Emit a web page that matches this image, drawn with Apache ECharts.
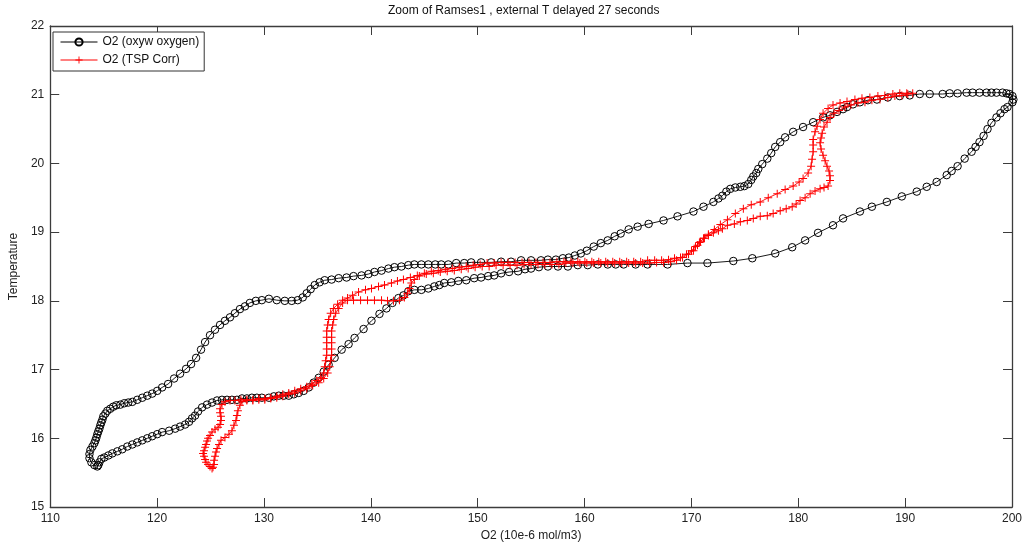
<!DOCTYPE html>
<html>
<head>
<meta charset="utf-8">
<script src="https://cdn.jsdelivr.net/npm/echarts@6/dist/echarts.min.js"></script>
<style>
html,body{margin:0;padding:0;background:#fff;}
#chart{width:1026px;height:547px;}
</style>
</head>
<body>
<div id="chart"></div>
<script>
// ---- data ----
const titleText = 'Zoom of Ramses1 , external T delayed 27 seconds';
const xName = 'O2 (10e-6 mol/m3)';
const yName = 'Temperature';
const seriesNames = ['O2 (oxyw oxygen)', 'O2 (TSP Corr)'];
const xTicks = {min: 110, max: 200, step: 10};
const yTicks = {min: 15, max: 22, step: 1};

const blackO2 = [
114.41,114.13,113.85,113.67,113.67,113.76,113.95,114.13,114.23,114.32,
114.41,114.50,114.60,114.69,114.78,114.88,114.97,115.16,115.34,115.62,
115.90,116.18,116.56,116.93,117.30,117.68,118.14,118.61,119.08,119.54,
120.01,120.47,121.03,121.59,122.15,122.71,123.18,123.65,124.11,124.49,
124.95,125.42,125.89,126.35,126.82,127.28,127.75,128.22,128.68,129.24,
129.80,130.46,131.20,131.95,132.60,133.16,133.63,134.00,134.37,134.75,
135.21,135.68,136.33,136.99,137.73,138.38,139.13,139.78,140.34,141.00,
141.65,142.21,142.86,143.51,144.07,144.73,145.38,146.03,146.59,147.25,
147.99,148.74,149.39,150.32,151.26,152.19,153.12,154.06,154.99,155.92,
156.57,157.32,157.97,158.53,159.09,159.65,160.21,160.86,161.52,162.17,
162.82,163.38,164.13,164.97,166.00,167.39,168.70,170.19,171.13,172.06,
172.53,172.90,173.27,173.64,174.11,174.58,174.95,175.32,175.60,175.79,
176.07,176.26,176.63,177.10,177.47,177.84,178.31,178.77,179.52,180.45,
181.39,182.32,182.97,183.63,184.19,184.56,185.12,185.77,186.52,187.36,
188.38,189.50,190.43,191.37,192.30,193.51,194.17,194.91,195.75,196.31,
196.96,197.62,198.08,198.55,199.11,199.48,199.76,200.04,200.13,200.04,
199.58,199.30,198.92,198.55,198.08,197.71,197.34,196.96,196.59,196.22,
195.57,194.91,194.35,193.89,192.95,192.02,191.09,189.69,188.29,186.89,
185.77,184.19,183.25,181.85,180.64,179.43,177.84,175.70,173.92,171.50,
169.63,167.77,165.90,164.78,163.66,162.92,162.17,161.24,160.30,159.37,
158.44,157.51,156.57,155.73,154.99,154.43,153.78,152.94,152.19,151.54,
150.98,150.32,149.67,148.93,148.18,147.53,146.87,146.41,145.94,145.38,
144.73,144.07,143.51,143.05,142.58,142.02,141.46,140.81,140.06,139.32,
138.48,137.92,137.27,136.61,136.05,135.59,135.12,134.65,134.19,133.72,
133.25,132.79,132.32,131.85,131.39,130.92,130.46,129.80,129.34,128.87,
128.40,127.94,127.47,127.00,126.54,126.07,125.61,125.14,124.67,124.21,
123.83,123.55,123.27,122.99,122.62,122.15,121.69,121.13,120.47,120.01,
119.54,119.08,118.61,118.14,117.68,117.21,116.74,116.28,115.81,115.44,
115.06,114.78,114.60,114.50
];
const blackT = [
15.59,15.61,15.65,15.71,15.77,15.83,15.88,15.93,15.97,16.01,
16.06,16.10,16.14,16.19,16.23,16.27,16.32,16.36,16.40,16.43,
16.46,16.48,16.49,16.51,16.52,16.53,16.56,16.59,16.62,16.65,
16.69,16.74,16.79,16.87,16.94,17.01,17.08,17.17,17.29,17.40,
17.50,17.58,17.65,17.71,17.76,17.82,17.88,17.92,17.97,18.00,
18.01,18.03,18.01,18.00,18.00,18.01,18.05,18.11,18.17,18.23,
18.27,18.30,18.31,18.33,18.34,18.36,18.37,18.39,18.42,18.44,
18.47,18.49,18.50,18.52,18.53,18.53,18.53,18.53,18.53,18.53,
18.55,18.55,18.56,18.56,18.56,18.57,18.57,18.59,18.59,18.59,
18.60,18.60,18.62,18.63,18.66,18.69,18.73,18.79,18.84,18.88,
18.94,18.98,19.04,19.08,19.12,19.17,19.23,19.30,19.37,19.44,
19.49,19.53,19.59,19.63,19.65,19.66,19.67,19.70,19.76,19.81,
19.86,19.92,19.99,20.07,20.15,20.24,20.31,20.38,20.46,20.53,
20.60,20.67,20.70,20.75,20.79,20.82,20.86,20.89,20.92,20.93,
20.96,20.98,20.99,21.01,21.01,21.01,21.02,21.02,21.03,21.03,
21.03,21.03,21.03,21.03,21.03,21.02,21.01,20.98,20.93,20.89,
20.82,20.79,20.73,20.67,20.59,20.50,20.40,20.31,20.24,20.17,
20.07,19.96,19.89,19.83,19.73,19.66,19.59,19.52,19.44,19.37,
19.30,19.20,19.10,18.99,18.88,18.78,18.69,18.62,18.58,18.55,
18.55,18.53,18.53,18.53,18.53,18.53,18.53,18.53,18.52,18.52,
18.50,18.50,18.50,18.49,18.47,18.46,18.43,18.42,18.40,18.37,
18.36,18.34,18.33,18.30,18.29,18.27,18.26,18.23,18.21,18.18,
18.16,18.16,18.14,18.08,18.04,17.97,17.89,17.81,17.71,17.59,
17.46,17.37,17.29,17.17,17.07,16.97,16.88,16.81,16.74,16.69,
16.66,16.64,16.62,16.62,16.62,16.61,16.59,16.59,16.59,16.59,
16.58,16.58,16.56,16.56,16.56,16.56,16.55,16.52,16.49,16.45,
16.39,16.33,16.29,16.24,16.20,16.17,16.14,16.11,16.09,16.06,
16.03,16.00,15.97,15.94,15.91,15.88,15.84,15.81,15.78,15.75,
15.72,15.70,15.65,15.61
];

const redO2 = [
125.14,124.95,124.77,124.58,124.49,124.39,124.30,124.39,124.49,124.58,
124.67,124.77,124.95,125.14,125.42,125.70,125.89,125.98,125.98,125.89,
125.89,126.07,126.35,126.82,127.28,127.84,128.40,128.96,129.52,130.08,
130.64,131.20,131.76,132.32,132.88,133.44,134.00,134.47,134.93,135.31,
135.59,135.68,135.77,135.87,135.87,135.87,135.87,135.87,135.96,136.05,
136.24,136.52,136.89,137.36,137.82,138.29,138.85,139.50,140.06,140.72,
141.28,141.93,142.49,143.05,143.70,144.35,145.01,145.66,146.31,146.97,
147.62,148.27,148.93,149.58,150.23,150.88,151.54,152.19,152.84,153.50,
154.15,154.80,155.45,156.11,156.76,157.41,158.07,158.72,159.37,160.03,
160.68,161.33,161.98,162.64,163.29,163.94,164.60,165.25,165.90,166.56,
167.21,167.86,168.42,168.98,169.54,170.01,170.38,170.75,171.13,171.59,
172.15,172.71,173.37,174.11,174.86,175.60,176.44,177.19,178.03,178.77,
179.52,180.08,180.45,180.92,181.20,181.29,181.39,181.39,181.39,181.57,
181.76,182.04,182.32,182.79,183.25,183.91,184.56,185.30,185.96,186.70,
187.45,188.10,188.85,189.50,190.15,190.71,
190.25,189.69,189.04,188.38,187.64,186.89,186.24,185.58,184.93,184.37,
183.81,183.35,182.97,182.69,182.41,182.23,182.13,182.04,182.13,182.32,
182.51,182.69,182.88,182.97,182.97,182.79,182.41,182.04,181.57,181.11,
180.64,180.17,179.80,179.43,178.87,178.31,177.65,177.10,176.44,175.79,
175.23,174.58,174.02,173.37,172.90,172.53,172.06,171.59,171.22,170.85,
170.57,170.19,169.73,169.17,168.61,168.05,167.39,166.74,166.09,165.44,
164.78,164.13,163.48,162.82,162.17,161.52,160.86,160.21,159.56,158.91,
158.25,157.60,156.95,156.29,155.64,154.99,154.34,153.68,153.03,152.38,
151.72,151.07,150.42,149.76,149.11,148.46,147.81,147.15,146.50,145.85,
145.19,144.54,144.07,143.79,143.61,143.42,143.14,142.68,142.12,141.56,
141.00,140.34,139.69,139.04,138.38,137.82,137.36,136.99,136.71,136.52,
136.43,136.33,136.33,136.33,136.33,136.33,136.24,136.15,135.96,135.59,
135.12,134.56,134.00,133.44,132.88,132.32,131.76,131.20,130.64,130.08,
129.52,128.96,128.40,127.94,127.75,127.56,127.47,127.38,127.19,127.00,
126.72,126.35,125.98,125.79,125.61,125.51,125.42,125.33,125.33,125.23
];
const redT = [
15.56,15.59,15.62,15.65,15.69,15.74,15.78,15.82,15.87,15.91,
15.96,16.00,16.04,16.09,16.13,16.16,16.20,16.26,16.32,16.37,
16.43,16.49,16.53,16.55,16.55,16.56,16.56,16.56,16.58,16.58,
16.59,16.61,16.64,16.66,16.69,16.72,16.75,16.79,16.84,16.88,
16.95,17.04,17.13,17.21,17.30,17.39,17.47,17.56,17.65,17.73,
17.82,17.89,17.95,18.01,18.04,18.08,18.13,18.16,18.18,18.21,
18.23,18.26,18.29,18.31,18.34,18.37,18.40,18.43,18.44,18.46,
18.47,18.49,18.50,18.52,18.53,18.55,18.55,18.56,18.56,18.56,
18.56,18.56,18.56,18.56,18.56,18.57,18.57,18.57,18.57,18.57,
18.57,18.57,18.57,18.57,18.57,18.57,18.57,18.57,18.59,18.59,
18.59,18.60,18.62,18.63,18.68,18.73,18.79,18.85,18.91,18.97,
19.04,19.11,19.18,19.27,19.34,19.40,19.44,19.50,19.56,19.62,
19.67,19.73,19.78,19.86,19.96,20.06,20.17,20.27,20.35,20.46,
20.54,20.64,20.73,20.80,20.85,20.88,20.90,20.93,20.95,20.96,
20.98,20.99,21.01,21.02,21.02,21.02,
21.01,20.99,20.98,20.96,20.93,20.92,20.89,20.88,20.85,20.82,
20.77,20.73,20.67,20.60,20.53,20.44,20.37,20.30,20.21,20.12,
20.04,19.96,19.89,19.82,19.75,19.67,19.65,19.63,19.60,19.56,
19.50,19.46,19.41,19.37,19.34,19.31,19.27,19.24,19.23,19.20,
19.17,19.15,19.12,19.10,19.05,19.02,18.99,18.95,18.91,18.86,
18.81,18.73,18.68,18.63,18.59,18.57,18.56,18.56,18.55,18.55,
18.55,18.55,18.55,18.55,18.55,18.55,18.55,18.55,18.55,18.55,
18.55,18.53,18.53,18.53,18.53,18.53,18.53,18.52,18.52,18.52,
18.52,18.50,18.50,18.49,18.47,18.46,18.44,18.43,18.42,18.40,
18.39,18.36,18.31,18.26,18.18,18.11,18.05,18.01,18.00,18.00,
18.01,18.01,18.01,18.01,18.01,18.01,17.97,17.89,17.82,17.73,
17.65,17.56,17.47,17.39,17.30,17.21,17.13,17.04,16.95,16.87,
16.81,16.77,16.72,16.69,16.66,16.64,16.61,16.59,16.58,16.56,
16.56,16.55,16.55,16.53,16.48,16.40,16.33,16.26,16.19,16.11,
16.06,16.01,15.97,15.91,15.85,15.80,15.74,15.68,15.62,15.58
];

// ---- chart ----
function pairs(xs, ys) {
  const n = Math.min(xs.length, ys.length);
  const out = [];
  for (let i = 0; i < n; i++) out.push([xs[i], ys[i]]);
  return out;
}

const FONT = 'Liberation Sans, Arial, Helvetica, sans-serif';
const AXIS_COLOR = '#3c3c3c';
const PLUS = 'path://M3.5,0H4.5V3.5H8V4.5H4.5V8H3.5V4.5H0V3.5H3.5Z';

const chart = echarts.init(document.getElementById('chart'), null, {renderer: 'canvas'});

function axisCommon(t) {
  return {
    type: 'value', min: t.min, max: t.max, interval: t.step,
    axisLine: {show: true, onZero: false, lineStyle: {color: AXIS_COLOR, width: 1.3}},
    axisTick: {show: true, inside: true, length: 9, lineStyle: {color: AXIS_COLOR, width: 1}},
    splitLine: {show: false},
    axisLabel: {show: true, fontFamily: FONT, fontSize: 12, color: '#222', margin: 6},
    silent: true
  };
}

const option = {
  animation: false,
  backgroundColor: '#ffffff',
  title: {
    text: titleText, left: 388, top: 5, padding: 0,
    textStyle: {fontFamily: FONT, fontSize: 12, fontWeight: 'normal', color: '#111'}
  },
  legend: {
    left: 53, top: 32, orient: 'vertical',
    padding: [3, 5, 4, 7], itemGap: 4,
    itemWidth: 37, itemHeight: 9,
    borderColor: '#333', borderWidth: 1, backgroundColor: '#fff',
    lineStyle: {width: 1},
    textStyle: {fontFamily: FONT, fontSize: 12, color: '#111', lineHeight: 14},
    data: seriesNames,
    selectedMode: false
  },
  grid: {left: 48, right: 14, top: 26, bottom: 37, containLabel: false},
  xAxis: [
    Object.assign(axisCommon(xTicks), {
      position: 'bottom', name: xName, nameLocation: 'middle', nameGap: 23,
      nameTextStyle: {fontFamily: FONT, fontSize: 12, color: '#222'}
    }),
    Object.assign(axisCommon(xTicks), {position: 'top', axisLabel: {show: false}})
  ],
  yAxis: [
    Object.assign(axisCommon(yTicks), {
      position: 'left', name: yName, nameLocation: 'middle', nameGap: 30, nameRotate: 90,
      nameTextStyle: {fontFamily: FONT, fontSize: 12, color: '#222'}
    }),
    Object.assign(axisCommon(yTicks), {position: 'right', axisLabel: {show: false}})
  ],
  series: [
    {
      name: seriesNames[0], type: 'line', xAxisIndex: 0, yAxisIndex: 0,
      data: pairs(blackO2, blackT),
      showSymbol: true, symbol: 'circle', symbolSize: 7.5, clip: false,
      itemStyle: {color: 'rgba(255,255,255,0)', borderColor: '#000', borderWidth: 1},
      lineStyle: {color: '#000', width: 0.9},
      emphasis: {disabled: true}, z: 2
    },
    {
      name: seriesNames[1], type: 'line', xAxisIndex: 0, yAxisIndex: 0,
      data: pairs(redO2, redT),
      showSymbol: true, symbol: PLUS, symbolSize: 8, clip: false,
      itemStyle: {color: '#ff0000', borderWidth: 0},
      lineStyle: {color: '#ff0000', width: 0.9},
      emphasis: {disabled: true}, z: 3
    }
  ]
};
chart.setOption(option);
</script>
</body>
</html>
